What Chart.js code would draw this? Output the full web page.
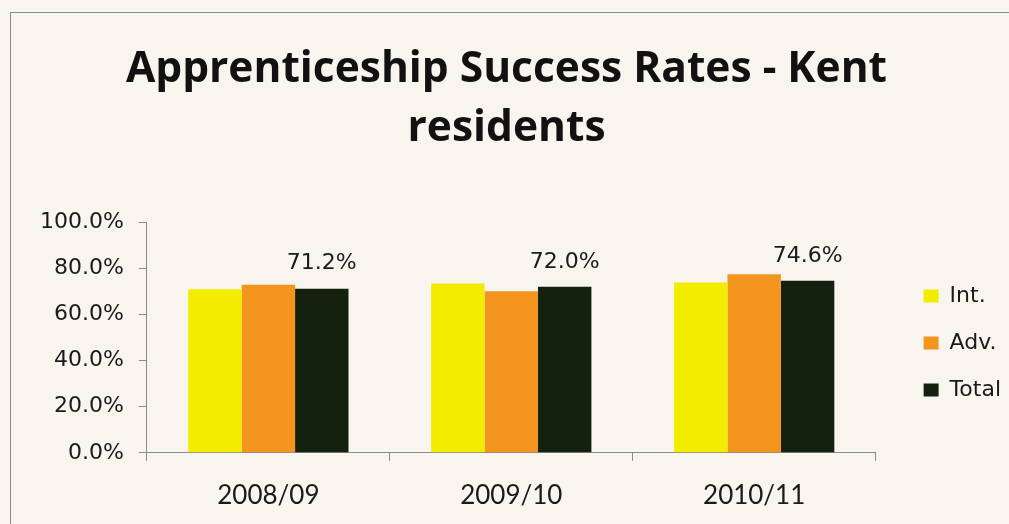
<!DOCTYPE html>
<html>
<head>
<meta charset="utf-8">
<script src="https://cdn.jsdelivr.net/npm/chart.js@4"></script>
<style>
  html, body { margin: 0; padding: 0; background: #f8f5ef; }
  #wrap { position: relative; width: 1009px; height: 524px; overflow: hidden; }
  #frame { position: absolute; left: 10px; top: 12px; width: 1100px; height: 600px; border: 1px solid #8a8a86; }
  #box { position: absolute; left: 0; top: 0; width: 1009px; height: 524px; }
</style>
</head>
<body>
<div id="wrap">
  <div id="frame"></div>
  <div id="box"><canvas id="myChart"></canvas></div>
</div>
<script>
// years on the x axis
const years = ['2008/09', '2009/10', '2010/11']
// success rates in percent
const intRates = [71.0, 73.5, 73.9]
const advRates = [72.9, 70.1, 77.5]
const totalRates = [71.2, 72.0, 74.6]
// y axis ticks
const yTicks = [0, 20, 40, 60, 80, 100]

const axisGrey = '#8a8a86'
const textColor = '#1a1a1a'

// writes the value above each Total bar
const totalLabels = {
    id: 'totalLabels',
    afterDatasetsDraw(chart) {
        const c = chart.ctx
        const meta = chart.getDatasetMeta(2)
        c.save()
        c.font = '22px "DejaVu Sans"'
        c.fillStyle = textColor
        c.textAlign = 'center'
        c.textBaseline = 'middle'
        meta.data.forEach((bar, i) => {
            c.fillText(totalRates[i].toFixed(1) + '%', bar.x, bar.y - 25)
        })
        c.restore()
    }
}

// move the legend away from the plot and down to its middle
const legendGap = {
    id: 'legendGap',
    afterLayout(chart) {
        chart.legend.left += 23
        chart.legend.right += 23
        chart.legend.top += 78
        chart.legend.bottom += 78
    }
}

new Chart(document.getElementById('myChart'), {
    type: 'bar',
    data: {
        labels: years,
        datasets: [{
            label: 'Int.',
            data: intRates,
            backgroundColor: '#f2ec00'
        }, {
            label: 'Adv.',
            data: advRates,
            backgroundColor: '#f4951f'
        }, {
            label: 'Total',
            data: totalRates,
            backgroundColor: '#14210f'
        }]
    },
    options: {
        responsive: true,
        maintainAspectRatio: false,
        animation: false,
        categoryPercentage: 0.66,
        barPercentage: 1.0,
        layout: {
            padding: {left: 25, right: 21, top: 0, bottom: -6}
        },
        plugins: {
            title: {
                display: true,
                text: ['Apprenticeship Success Rates - Kent', 'residents'],
                color: '#111',
                font: {family: 'Open Sans', size: 42.5, weight: 'bold', lineHeight: 1.38},
                padding: {top: 41, bottom: 64}
            },
            legend: {
                position: 'right',
                labels: {
                    color: textColor,
                    font: {family: 'DejaVu Sans', size: 22},
                    boxWidth: 15,
                    boxHeight: 13,
                    padding: 25
                }
            },
            tooltip: {enabled: false}
        },
        scales: {
            x: {
                grid: {
                    offset: true,
                    drawOnChartArea: false,
                    tickLength: 8,
                    color: axisGrey
                },
                border: {color: axisGrey},
                ticks: {
                    color: textColor,
                    font: {family: 'Lato', size: 26},
                    padding: 19
                }
            },
            y: {
                min: 0,
                max: 100,
                afterBuildTicks(axis) {
                    axis.ticks = yTicks.map(v => ({value: v}))
                },
                grid: {
                    drawOnChartArea: false,
                    tickLength: 8,
                    color: axisGrey
                },
                border: {color: axisGrey},
                ticks: {
                    color: textColor,
                    font: {family: 'DejaVu Sans', size: 22},
                    padding: 15,
                    callback: v => v.toFixed(1) + '%'
                }
            }
        }
    },
    plugins: [totalLabels, legendGap]
});
</script>
</body>
</html>
